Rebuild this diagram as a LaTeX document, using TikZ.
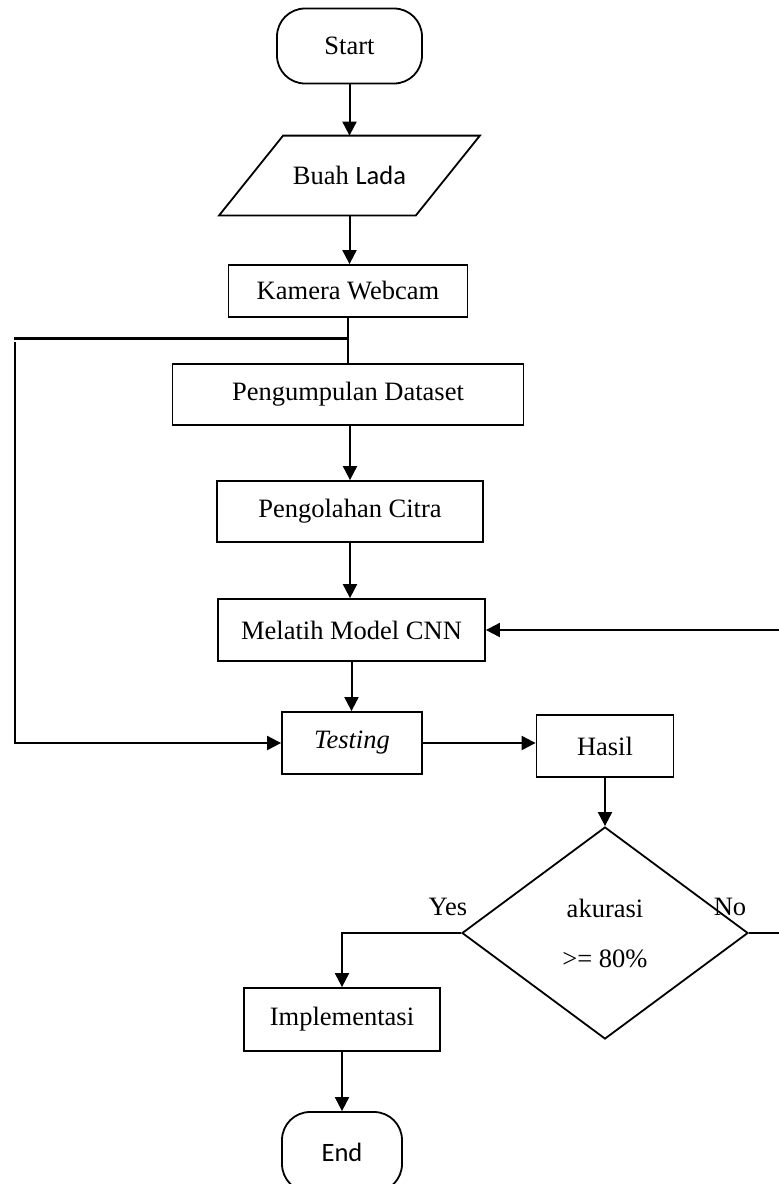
\documentclass[tikz,border=0pt]{standalone}
\usepackage{fontspec}
\setmainfont{Liberation Serif}
\newfontfamily\calibri{Carlito}
\usetikzlibrary{arrows.meta,shapes.geometric}

\tikzset{
  kotak/.style={draw, line width=0.9pt, minimum height=31pt},
  terminal/.style={draw, line width=0.9pt, rounded corners=14pt},
  masukan/.style={minimum width=98pt, minimum height=39.5pt},
  bingkai/.style={line width=0.9pt},
  keputusan/.style={draw, line width=0.9pt, diamond, align=center, inner sep=0pt},
  panah/.style={line width=1pt, -{Triangle[length=7pt,width=7pt]}},
  garis/.style={line width=1pt}
}

\begin{document}
\begin{tikzpicture}[x=0.5pt,y=-0.5pt,font=\fontsize{13.25}{16}\selectfont]

\useasboundingbox (0,0) rectangle (779,1184);
\clip (0,0) rectangle (779,1184);

\node[terminal, minimum width=72.5pt, minimum height=37.5pt] (start) at (349.5,46) {Start};
\node[masukan] (buah) at (349.5,175.5) {Buah {\calibri Lada}};
\draw[bingkai] ([xshift=-16pt]buah.south west) -- ([xshift=-16pt]buah.south east)
  -- ([xshift=16pt]buah.north east) -- ([xshift=16pt]buah.north west) -- cycle;
\node[kotak, minimum width=119.5pt, minimum height=26pt] (kamera) at (348,291) {Kamera Webcam};
\node[kotak, minimum width=175.5pt, minimum height=30.5pt] (kumpul) at (348,394.5) {Pengumpulan Dataset};
\node[kotak, minimum width=133pt, minimum height=30.5pt] (olah) at (350,511.5) {Pengolahan Citra};
\node[kotak, minimum width=133.5pt] (latih) at (351.5,630) {Melatih Model CNN};
\node[kotak, minimum width=70pt] (testing) at (352,743) {\textit{Testing}};
\node[kotak, minimum width=68.5pt] (hasil) at (605,746) {Hasil};
\node[keputusan, minimum width=143pt, minimum height=106pt] (cek) at (605,933) {akurasi\\[9pt]>= 80\%};
\node[kotak, minimum width=98pt, minimum height=31.5pt] (impl) at (342,1019.5) {Implementasi};
\node[terminal, minimum width=60pt, minimum height=40pt] (selesai) at (342,1152) {\calibri End};

\node (ya) at (448,907) {Yes};
\node (tidak) at (730,907) {No};

\coordinate (cabang) at (348,338);
\coordinate (ujung) at (14,338);
\coordinate (kiri) at (15,342);
\coordinate (kanan) at (781,933);

\draw[panah] (start.south) -- (start.south |- buah.north);
\draw[panah] (buah.south) -- (buah.south |- kamera.north);
\draw[garis] (kamera) -- (kumpul);
\draw[line width=1.5pt] (cabang) -- (ujung);
\draw[panah] (kiri) |- (testing.west);
\draw[panah] (olah.north |- kumpul.south) -- (olah.north);
\draw[panah] (olah.south) -- (olah.south |- latih.north);
\draw[panah] (latih.south) -- (latih.south |- testing.north);
\draw[panah] (testing.east) -- (testing.east -| hasil.west);
\draw[panah] (hasil) -- (cek);
\draw[panah] (cek.west) -| (impl.north);
\draw[panah] (impl) -- (selesai);
\draw[panah] (cek.east) -- (kanan) |- (latih.east);

\end{tikzpicture}
\end{document}
